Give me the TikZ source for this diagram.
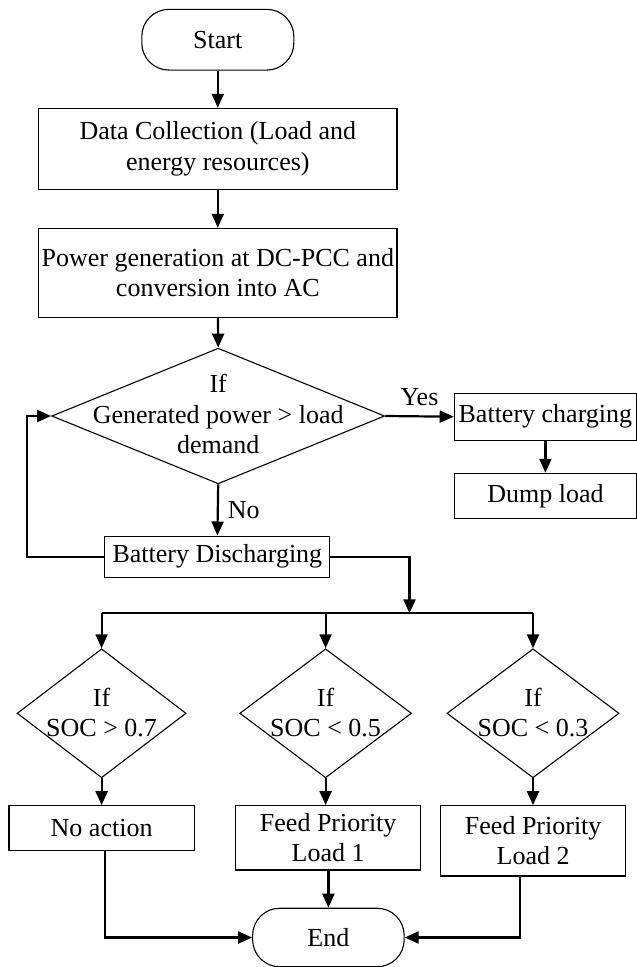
\documentclass[tikz,border=0pt]{standalone}
\usepackage{fontspec}
\setmainfont{Liberation Serif}
\usetikzlibrary{shapes.geometric,arrows.meta}
\begin{document}
\begin{tikzpicture}[x=1pt,y=-1pt,
  font=\fontsize{26}{30.5}\selectfont,
  box/.style={draw,line width=1.1pt,inner sep=0pt,align=center},
  term/.style={draw,line width=1.1pt,rounded corners=27pt,inner sep=0pt},
  dia/.style={draw,diamond,line width=1.1pt,inner sep=0pt},
  txt/.style={align=center,inner sep=0pt},
  arr/.style={line width=2.2pt,-{Triangle[length=14pt,width=12pt]}},
  ln/.style={line width=2.2pt}
]
\useasboundingbox (0,0) rectangle (637,967);
\node[term, minimum width=152pt, minimum height=60.7pt] (start) at (217.8,39.7) {Start};
\node[box, minimum width=358.3pt, minimum height=81pt] (data) at (217.8,148.8) {Data Collection (Load and\\energy resources)};
\node[box, minimum width=358.3pt, minimum height=89pt] (power) at (217.8,272.8) {Power generation at DC-PCC and\\conversion into AC};
\node[dia, minimum width=333pt, minimum height=135.7pt] (d1) at (218.2,416) {};
\node[txt] (d1t) at (218.2,414) {If\\Generated power > load\\demand};
\node[box, minimum width=182.3pt, minimum height=46.7pt] (chg) at (545.4,416.7) {Battery charging};
\node[box, minimum width=182.3pt, minimum height=45pt] (dump) at (545.4,495.8) {Dump load};
\node[box, minimum width=225pt, minimum height=41.3pt] (dis) at (217.4,556.7) {Battery Discharging};

\node[dia, minimum width=169pt, minimum height=129pt] (s1) at (101.6,713.3) {};
\node[dia, minimum width=171.8pt, minimum height=129pt] (s2) at (325.6,713.3) {};
\node[dia, minimum width=172.2pt, minimum height=129pt] (s3) at (533,713.3) {};
\node[txt] (s1t) at (101.6,712.5) {If\\SOC > 0.7};
\node[txt] (s2t) at (325.6,712.5) {If\\SOC < 0.5};
\node[txt] (s3t) at (533,712.5) {If\\SOC < 0.3};

\node[box, minimum width=185.3pt, minimum height=45pt] (noact) at (101.6,828.2) {No action};
\node[box, minimum width=185.3pt, minimum height=64.3pt] (f1) at (328.2,837.8) {Feed Priority\\Load 1};
\node[box, minimum width=184.8pt, minimum height=70.3pt] (f2) at (533.2,840.8) {Feed Priority\\Load 2};
\node[term, minimum width=151.5pt, minimum height=58.5pt] (end) at (328.4,937.5) {End};

\coordinate (fb) at (27.2,556.7);
\coordinate (bj) at (409.5,613.3);
\coordinate (bl) at (101.6,613.3);
\coordinate (bm) at (325.6,613.3);
\coordinate (br) at (533,613.3);

\draw[arr] (start) -- (data);
\draw[arr] (data) -- (power);
\draw[arr] (power) -- (d1.north);
\draw[arr] (d1.east) -- node[midway, above=10pt, inner sep=0pt] {Yes} (chg.west);
\draw[arr] (chg) -- (dump);
\draw[arr] (d1.south) -- node[midway, right=9pt, inner sep=0pt] {No} (dis.north);
\draw[arr] (dis.west) -- (fb) |- (d1.west);
\draw[arr] (dis.east) -| (bj);
\draw[ln] (bl) -- (br);
\draw[arr] (bl) -- (s1.north);
\draw[arr] (bm) -- (s2.north);
\draw[arr] (br) -- (s3.north);
\draw[arr] (s1.south) -- (s1.south |- noact.north);
\draw[arr] (s2.south) -- (s2.south |- f1.north);
\draw[arr] (s3.south) -- (s3.south |- f2.north);
\draw[arr] (f1.south -| end.north) -- (end.north);
\draw[arr] ([xshift=3pt]noact.south) |- (end.west);
\draw[arr] ([xshift=-13pt]f2.south) |- (end.east);
\end{tikzpicture}
\end{document}
